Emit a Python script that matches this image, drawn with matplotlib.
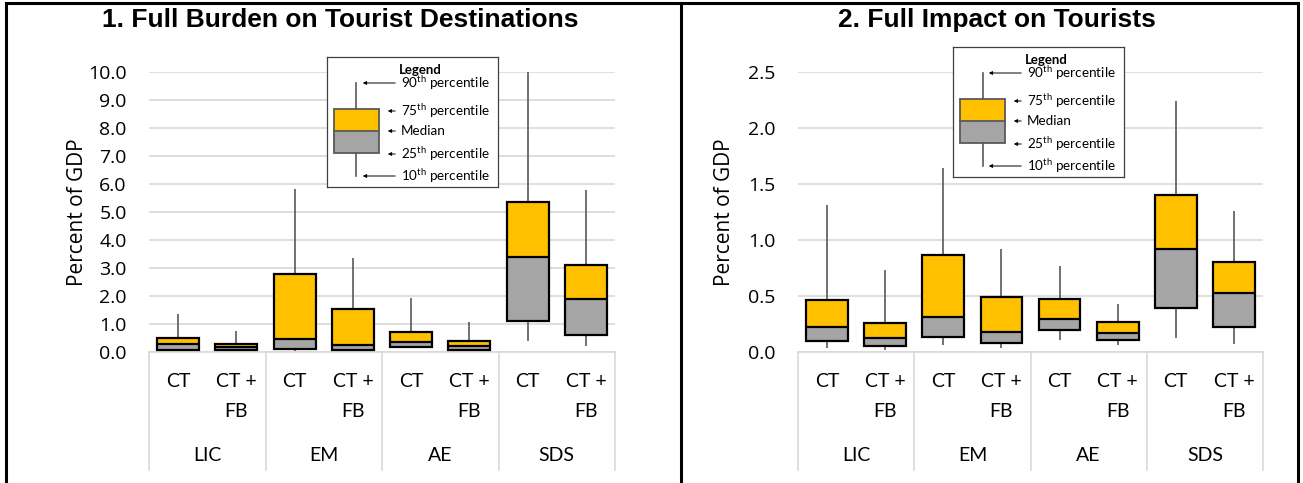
import matplotlib.pyplot as plt
import matplotlib.patches as patches
from matplotlib.lines import Line2D

plt.rcParams['font.family'] = ['Open Sans', 'DejaVu Sans']
plt.rcParams['mathtext.fontset'] = 'custom'
plt.rcParams['mathtext.rm'] = 'Lato'
plt.rcParams['mathtext.bf'] = 'Lato:bold'

# --- DATA ---
grupos = ['LIC', 'EM', 'AE', 'SDS']
subgrupos = ['CT', 'CT +\nFB']

titulo_1 = '1. Full Burden on Tourist Destinations'
p10_1 = [0.03, 0.02, 0.05, 0.02, 0.15, 0.05, 0.38, 0.20]
p25_1 = [0.07, 0.06, 0.12, 0.06, 0.18, 0.08, 1.12, 0.62]
med_1 = [0.29, 0.17, 0.46, 0.25, 0.36, 0.20, 3.39, 1.90]
p75_1 = [0.50, 0.29, 2.80, 1.54, 0.71, 0.39, 5.36, 3.12]
p90_1 = [1.35, 0.74, 5.83, 3.36, 1.93, 1.07, 10.0, 5.80]

titulo_2 = '2. Full Impact on Tourists'
p10_2 = [0.036, 0.02, 0.062, 0.036, 0.107, 0.06, 0.122, 0.07]
p25_2 = [0.095, 0.05, 0.134, 0.077, 0.193, 0.107, 0.39, 0.22]
med_2 = [0.226, 0.128, 0.315, 0.176, 0.298, 0.17, 0.923, 0.524]
p75_2 = [0.46, 0.26, 0.863, 0.488, 0.473, 0.265, 1.40, 0.80]
p90_2 = [1.31, 0.73, 1.64, 0.917, 0.77, 0.43, 2.24, 1.26]

etiquetas_leyenda = ['90$^{\\mathrm{th}}$ percentile', '75$^{\\mathrm{th}}$ percentile', 'Median',
                     '25$^{\\mathrm{th}}$ percentile', '10$^{\\mathrm{th}}$ percentile']

GRIS = '#a5a5a5'
ORO = '#ffc000'
BIGOTE = '#595959'
REJILLA = '#d9d9d9'

W, H = 1303, 483
fig = plt.figure(figsize=(W / 100, H / 100), dpi=100)


def px_rect(x0, y0, x1, y1):
    # pixel box (from top-left) -> figure fraction
    return [x0 / W, 1 - y1 / H, (x1 - x0) / W, (y1 - y0) / H]


def dibujar_leyenda(x0, y0):
    axl = fig.add_axes(px_rect(x0, y0, x0 + 171, y0 + 130))
    axl.set_xlim(0, 171)
    axl.set_ylim(130, 0)
    axl.set_xticks([])
    axl.set_yticks([])
    for s in axl.spines.values():
        s.set_color('#404040')
        s.set_linewidth(0.9)
    axl.text(93, 13, 'Legend', ha='center', va='center', fontsize=9.5,
             fontweight='bold', family='Lato')
    # mini box plot
    axl.plot([29.5, 29.5], [26, 52], color=BIGOTE, lw=1.2)
    axl.plot([29.5, 29.5], [96, 119], color=BIGOTE, lw=1.2)
    axl.add_patch(patches.Rectangle((7, 52), 45, 22, facecolor=ORO, edgecolor='none'))
    axl.add_patch(patches.Rectangle((7, 74), 45, 22, facecolor=GRIS, edgecolor='none'))
    axl.add_patch(patches.Rectangle((7, 52), 45, 44, fill=False, edgecolor='#595959', lw=1.3))
    axl.plot([7, 52], [74, 74], color='#595959', lw=1.3)
    ys = [26, 54, 74, 97, 119]
    puntas = [33, 58, 58, 58, 33]
    for y, xp, txt in zip(ys, puntas, etiquetas_leyenda):
        axl.annotate('', xy=(xp, y), xytext=(71, y),
                     arrowprops=dict(arrowstyle='-|>', color='black', lw=0.7, mutation_scale=5))
        axl.text(74, y, txt, ha='left', va='center', fontsize=9.7, family='Lato')


def dibujar_panel(x0, x1, p10, p25, med, p75, p90, ymax, paso, titulo, ylabel_x, panel_cx):
    ax = fig.add_axes(px_rect(x0, 72, x1, 352))
    x = list(range(len(med)))
    ancho = 0.72

    # whiskers
    ax.vlines(x, p10, p25, color=BIGOTE, lw=1.2, zorder=2)
    ax.vlines(x, p75, p90, color=BIGOTE, lw=1.2, zorder=2)
    # two-tone boxes
    alto_gris = [m - a for m, a in zip(med, p25)]
    alto_oro = [b - m for b, m in zip(p75, med)]
    alto_caja = [b - a for b, a in zip(p75, p25)]
    ax.bar(x, alto_gris, bottom=p25, width=ancho, color=GRIS, zorder=3)
    ax.bar(x, alto_oro, bottom=med, width=ancho, color=ORO, zorder=3)
    ax.bar(x, alto_caja, bottom=p25, width=ancho, fill=False, edgecolor='black', lw=1.6, zorder=4)
    ax.hlines(med, [i - ancho / 2 for i in x], [i + ancho / 2 for i in x],
              color='black', lw=1.6, zorder=4)

    ax.set_xlim(-0.5, len(med) - 0.5)
    ax.set_ylim(0, ymax)
    n_ticks = int(round(ymax / paso)) + 1
    ax.set_yticks([i * paso for i in range(n_ticks)])
    ax.set_yticklabels([f'{i * paso:.1f}' for i in range(n_ticks)], fontsize=14)
    ax.tick_params(axis='y', length=0, pad=16)
    ax.set_xticks([])
    ax.grid(axis='y', color=REJILLA, lw=1.2, zorder=0)
    ax.set_axisbelow(True)
    for s in ax.spines.values():
        s.set_visible(False)

    # category axis (two levels)
    trans = ax.get_xaxis_transform()
    ax.plot([-0.5, len(med) - 0.5], [0, 0], color=REJILLA, lw=1.2, transform=trans, clip_on=False)
    for g in range(len(grupos) + 1):
        xs = 2 * g - 0.5
        ax.plot([xs, xs], [0, -0.421], color=REJILLA, lw=1.2, transform=trans, clip_on=False)
    for i in x:
        lineas = subgrupos[i % 2].split('\n')
        for k, linea in enumerate(lineas):
            ax.text(i, -0.107 - 0.107 * k, linea, ha='center', va='center', fontsize=14,
                    family='Lato', transform=trans)
    for g, nombre in enumerate(grupos):
        ax.text(2 * g + 0.5, -0.368, nombre, ha='center', va='center', fontsize=14,
                family='Lato', transform=trans)

    ax.text(ylabel_x, 0.5, 'Percent of GDP', rotation=90, ha='center', va='center',
            fontsize=15, transform=ax.transAxes)
    fig.text(panel_cx / W, 1 - 20 / H, titulo, ha='center', va='center', fontsize=19,
             fontweight='bold', family='Liberation Sans')
    return ax


dibujar_panel(149, 615, p10_1, p25_1, med_1, p75_1, p90_1, 10.0, 1.0, titulo_1,
              (78 - 149) / 466, 340)
dibujar_panel(798, 1263, p10_2, p25_2, med_2, p75_2, p90_2, 2.5, 0.5, titulo_2,
              (724 - 798) / 465, 997)
dibujar_leyenda(327, 57)
dibujar_leyenda(953, 47)

# outer frame and divider
for (xa, ya, xb, yb) in [(6, 3, 1298, 3), (6, 3, 6, 483), (1298, 3, 1298, 483), (681, 3, 681, 483)]:
    fig.add_artist(Line2D([xa / W, xb / W], [1 - ya / H, 1 - yb / H], color='black', lw=2.2))

fig.savefig('out.png', dpi=100)
